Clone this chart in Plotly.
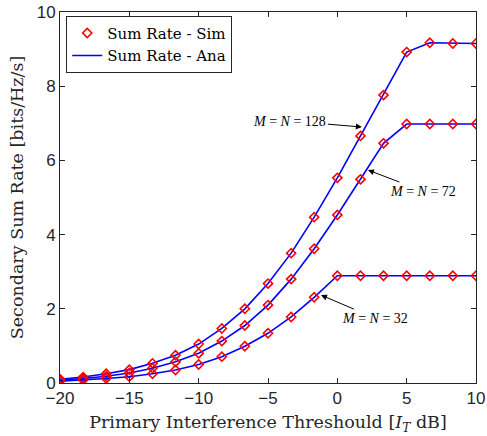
import plotly.graph_objects as go

# interference threshold I_T [dB]
it_db = [-20, -18.33, -16.67, -15, -13.33, -11.67, -10, -8.33, -6.67, -5,
         -3.33, -1.67, 0, 1.67, 3.33, 5, 6.67, 8.33, 10]

# sum rate [bits/Hz/s]
rate_128 = [0.10, 0.16, 0.25, 0.36, 0.53, 0.75, 1.05, 1.47, 2.00, 2.68,
            3.50, 4.47, 5.53, 6.66, 7.76, 8.92, 9.17, 9.15, 9.15]
rate_72 = [0.08, 0.12, 0.18, 0.27, 0.40, 0.57, 0.80, 1.13, 1.55, 2.10,
           2.80, 3.62, 4.53, 5.49, 6.46, 6.98, 6.98, 6.98, 6.98]
rate_32 = [0.05, 0.08, 0.12, 0.17, 0.25, 0.35, 0.50, 0.71, 0.99, 1.34,
           1.78, 2.31, 2.89, 2.89, 2.89, 2.89, 2.89, 2.89, 2.89]

serif = "DejaVu Serif, Liberation Serif, serif"
sans = "Liberation Sans, Arial, sans-serif"

fig = go.Figure()

for i, ys in enumerate([rate_128, rate_72, rate_32]):
    fig.add_trace(go.Scatter(
        x=it_db, y=ys, mode="lines",
        line={"color": "#0000ff", "width": 1.6},
        name="Sum Rate - Ana", showlegend=(i == 0), legendrank=2,
    ))
    fig.add_trace(go.Scatter(
        x=it_db, y=ys, mode="markers",
        marker={"symbol": "diamond-open", "color": "#ff0000", "size": 7,
                "line": {"width": 1.6}},
        name="Sum Rate - Sim", showlegend=(i == 0), legendrank=1,
    ))

ann = [
    (1.77, 6.9, -72, -6, "<i>M</i> = <i>N</i> = 128"),
    (2.21, 5.74, 55, 21, "<i>M</i> = <i>N</i> = 72"),
    (-1.18, 2.37, 54, 23, "<i>M</i> = <i>N</i> = 32"),
]
for x, y, ax, ay, txt in ann:
    fig.add_annotation(
        x=x, y=y, ax=ax, ay=ay, text=txt, showarrow=True,
        arrowhead=2, arrowsize=1.2, arrowwidth=1, arrowcolor="black",
        font={"family": "Liberation Serif, serif", "size": 14, "color": "black"},
    )

axis_common = dict(
    showline=True, linecolor="#262626", linewidth=1, mirror="ticks",
    ticks="inside", ticklen=5, tickcolor="#262626",
    showgrid=False, zeroline=False, automargin=False,
    ticklabeloverflow="allow",
    tickfont={"family": sans, "size": 17, "color": "#262626"},
)

fig.update_xaxes(
    range=[-20, 10], tickvals=[-20, -15, -10, -5, 0, 5, 10],
    title={"text": "Primary Interference Threshould [<i>I</i><sub><i>T</i></sub> dB]",
           "font": {"family": serif, "size": 17.5, "color": "#262626"},
           "standoff": 8},
    **axis_common,
)
fig.update_yaxes(
    range=[0, 10], tickvals=[0, 2, 4, 6, 8, 10],
    title={"text": "Secondary Sum Rate [bits/Hz/s]",
           "font": {"family": serif, "size": 17.5, "color": "#262626"},
           "standoff": 8},
    **axis_common,
)

fig.update_layout(
    width=487, height=436,
    margin={"l": 60, "r": 11, "t": 12, "b": 53},
    plot_bgcolor="white", paper_bgcolor="white",
    legend={"x": 0.015, "y": 0.99, "xanchor": "left", "yanchor": "top",
            "bgcolor": "white", "bordercolor": "#262626", "borderwidth": 1,
            "font": {"family": serif, "size": 15, "color": "black"},
            "tracegroupgap": 0, "itemwidth": 30},
    showlegend=True,
)

# drop the default page margin so the figure sits at the window's corner
fig.write_html("out.html", config={"displayModeBar": False},
               post_script="document.body.style.margin = '0';")
